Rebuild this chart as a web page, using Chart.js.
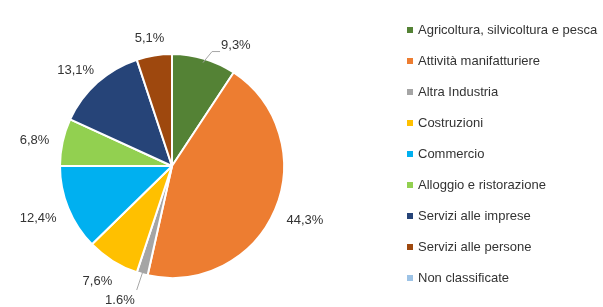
<!DOCTYPE html>
<html>
<head>
<meta charset="utf-8">
<script src="https://cdn.jsdelivr.net/npm/chart.js@4"></script>
<style>
  html, body { margin: 0; padding: 0; background: #fff; }
  #wrap { position: relative; width: 603px; height: 307px; overflow: hidden; }
  #legend { position: absolute; left: 407px; top: 21px; margin: 0; padding: 0; list-style: none;
            font-family: "Liberation Sans", Arial, sans-serif; font-size: 13px; color: #333333; white-space: nowrap; }
  #legend li { height: 31px; line-height: 18px; }
  #legend span.box { display: inline-block; width: 6px; height: 6px; margin-right: 5px; vertical-align: 1px; }
</style>
</head>
<body>
<div id="wrap">
  <canvas id="pieChart" width="603" height="307"></canvas>
  <ul id="legend"></ul>
</div>
<script>
// Sectors and their share (%)
const sectors = [
    "Agricoltura, silvicoltura e pesca",
    "Attività manifatturiere",
    "Altra Industria",
    "Costruzioni",
    "Commercio",
    "Alloggio e ristorazione",
    "Servizi alle imprese",
    "Servizi alle persone",
    "Non classificate"
];
const shares = [9.3, 44.3, 1.6, 7.6, 12.4, 6.8, 13.1, 5.1, 0];
const shareLabels = ["9,3%", "44,3%", "1.6%", "7,6%", "12,4%", "6,8%", "13,1%", "5,1%", ""];
const sectorColors = ["#548235", "#ED7D31", "#A5A5A5", "#FFC000", "#00B0F0", "#92D050", "#264478", "#9E480E", "#9DC3E6"];

// html legend, built from the arrays above
const legendEl = document.getElementById('legend');
sectors.forEach((name, i) => {
    const li = document.createElement('li');
    li.innerHTML = `<span class="box" style="background:${sectorColors[i]}"></span>${name}`;
    legendEl.appendChild(li);
});

// draws the percentage labels outside the pie, with leader lines for the thin slices
const outsideLabels = {
    id: 'outsideLabels',
    afterDatasetsDraw(chart) {
        const ctx = chart.ctx;
        const arcs = chart.getDatasetMeta(0).data;
        ctx.save();
        ctx.font = '13px "Liberation Sans", Arial, sans-serif';
        ctx.fillStyle = '#333333';
        ctx.textAlign = 'center';
        ctx.textBaseline = 'middle';
        arcs.forEach((arc, i) => {
            const text = shareLabels[i];
            if (!text) return;
            const mid = (arc.startAngle + arc.endAngle) / 2;
            const cos = Math.cos(mid), sin = Math.sin(mid);
            const w = ctx.measureText(text).width;
            const h = 12;
            let dist = arc.outerRadius + 14;
            let x = arc.x + cos * dist + cos * w / 2;
            let y = arc.y + sin * dist + sin * h / 2 + 3;

            if (i === 0) {
                // pulled up-right with an elbow leader
                const sx = arc.x + cos * (arc.outerRadius - 4), sy = arc.y + sin * (arc.outerRadius - 4);
                const ex = sx + 9, ey = sy - 11;
                ctx.strokeStyle = '#A6A6A6';
                ctx.lineWidth = 1;
                ctx.beginPath();
                ctx.moveTo(sx, sy); ctx.lineTo(ex, ey); ctx.lineTo(ex + 8, ey);
                ctx.stroke();
                ctx.textAlign = 'left';
                ctx.fillText(text, ex + 9, ey - 6);
                ctx.textAlign = 'center';
                return;
            }
            if (i === 2) {
                const sx = arc.x + cos * (arc.outerRadius - 2), sy = arc.y + sin * (arc.outerRadius - 2);
                const ex = sx - 6, ey = sy + 18;
                ctx.strokeStyle = '#A6A6A6';
                ctx.lineWidth = 1;
                ctx.beginPath();
                ctx.moveTo(sx, sy); ctx.lineTo(ex, ey);
                ctx.stroke();
                ctx.textAlign = 'right';
                ctx.fillText(text, ex - 2, ey + 10);
                ctx.textAlign = 'center';
                return;
            }
            ctx.fillText(text, x, y);
        });
        ctx.restore();
    }
};

new Chart(document.getElementById('pieChart'), {
    type: 'pie',
    data: {
        labels: sectors,
        datasets: [{
            data: shares,
            backgroundColor: sectorColors,
            borderColor: '#ffffff',
            borderWidth: 2
        }]
    },
    options: {
        responsive: false,
        animation: false,
        layout: { padding: { left: 59, right: 318, top: 53, bottom: 28 } },
        plugins: {
            legend: { display: false },
            tooltip: { enabled: false }
        }
    },
    plugins: [outsideLabels]
});
</script>
</body>
</html>
